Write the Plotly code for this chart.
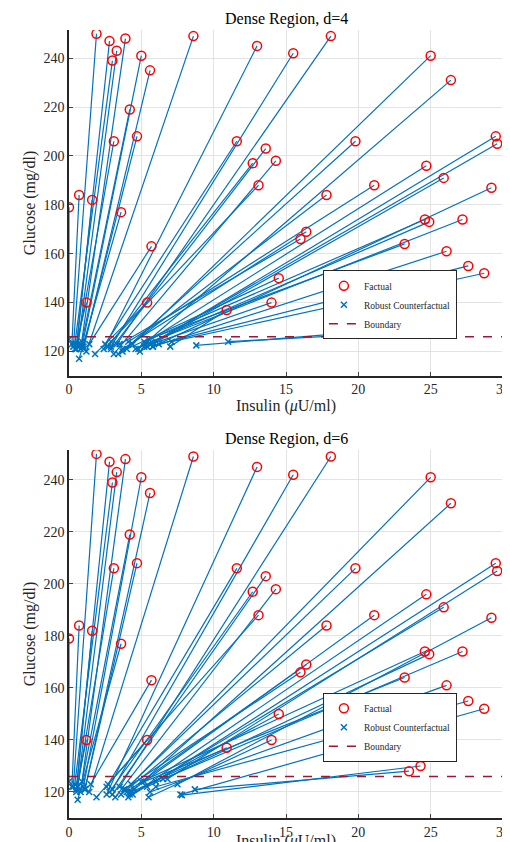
import plotly.graph_objects as go
from plotly.subplots import make_subplots

# factual points (same in both panels)
fact_x = [1.9, 2.8, 3.3, 3.9, 3.0, 5.0, 5.6, 8.6, 13.0, 15.5, 18.1, 25.0, 26.4, 4.2, 3.1, 4.7, 11.6, 12.7, 13.6, 14.3,
          13.1, 19.8, 29.5, 29.6, 0.0, 0.7, 1.6, 3.6, 5.7, 17.8, 21.1, 24.7, 25.9, 29.2, 24.6, 24.9, 27.2, 16.0, 16.4, 23.2,
          26.1, 27.6, 28.7, 14.5, 1.2, 5.4, 14.0, 10.9, 23.5, 24.3]
fact_y = [250, 247, 243, 248, 239, 241, 235, 249, 245, 242, 249, 241, 231, 219, 206, 208, 206, 197, 203, 198,
          188, 206, 208, 205, 179, 184, 182, 177, 163, 184, 188, 196, 191, 187, 174, 173, 174, 166, 169, 164,
          161, 155, 152, 150, 140, 140, 140, 137, 128, 130]

# robust counterfactuals, d=4
cf4_x = [0.3, 0.5, 0.6, 0.8, 0.4, 0.9, 1.0, 1.2, 2.4, 2.9, 3.3, 4.4, 4.8, 0.9, 0.6, 1.0, 2.5, 2.7, 2.9, 3.1,
         2.9, 3.7, 5.4, 5.6, 0.0, 0.2, 0.5, 0.7, 1.4, 3.4, 4.1, 4.6, 4.9, 5.8, 5.2, 5.3, 5.7, 3.5, 3.7, 5.5,
         5.8, 6.2, 7.1, 4.0, 0.4, 1.8, 5.2, 7.0, 11.0, 8.8]
cf4_y = [122, 121, 122, 121, 123, 122, 121, 120, 121, 122, 123, 123, 121, 124, 123, 122, 123, 122, 121, 119,
         124, 120, 122, 123, 125, 123, 121, 117, 123, 119, 124, 121, 120, 122, 124, 123, 124, 123, 121, 125,
         122, 123, 124, 121, 121, 119, 122, 122, 124, 122.5]

# robust counterfactuals, d=6
cf6_x = [0.3, 0.5, 0.6, 0.8, 0.4, 1.0, 1.1, 1.4, 2.6, 3.0, 3.5, 4.3, 4.5, 0.9, 0.6, 1.1, 2.6, 2.8, 3.0, 3.2,
         2.7, 3.9, 6.0, 6.8, 0.0, 0.2, 0.5, 0.6, 1.5, 3.6, 4.2, 4.1, 4.4, 7.5, 5.0, 5.4, 6.5, 3.8, 4.0, 5.2,
         5.6, 6.0, 7.7, 4.2, 0.5, 1.9, 5.5, 4.3, 8.7, 7.8]
cf6_y = [122, 121, 122, 120, 123, 122, 121, 120, 119, 121, 122, 123, 121, 124, 122, 121, 122, 120, 119, 118,
         123, 121, 124, 125, 124, 122, 120, 117, 123, 119, 120, 118, 119, 123, 124, 122, 125, 121, 120, 124,
         120, 122, 119, 119, 121, 118, 118, 120, 121, 118.8]

boundary = 126
titles = ["Dense Region, d=4", "Dense Region, d=6"]

line_col = "#0072BD"
font = "Liberation Serif"

fig = make_subplots(rows=2, cols=1, subplot_titles=titles)

for row, (cx, cy) in enumerate([(cf4_x, cf4_y), (cf6_x, cf6_y)], start=1):
    lx, ly = [], []
    for a, b, c, d in zip(fact_x, fact_y, cx, cy):
        lx += [a, c, None]
        ly += [b, d, None]
    leg = "legend" if row == 1 else "legend2"
    fig.add_trace(go.Scatter(x=lx, y=ly, mode="lines", line=dict(color=line_col, width=1.2),
                             showlegend=False, hoverinfo="skip"), row=row, col=1)
    fig.add_trace(go.Scatter(x=fact_x, y=fact_y, mode="markers", name="Factual", legend=leg,
                             marker=dict(symbol="circle-open", size=9, color="red", line=dict(width=1.5))),
                  row=row, col=1)
    fig.add_trace(go.Scatter(x=cx, y=cy, mode="markers", name="Robust Counterfactual", legend=leg,
                             marker=dict(symbol="x-thin-open", size=6, color=line_col, line=dict(width=1.5, color=line_col))),
                  row=row, col=1)
    fig.add_trace(go.Scatter(x=[0, 30], y=[boundary, boundary], mode="lines", name="Boundary", legend=leg,
                             line=dict(color="#A2142F", width=1.5, dash="dash")), row=row, col=1)
    fig.update_xaxes(range=[0, 30], dtick=5, title_text="Insulin (<i>μ</i>U/ml)", row=row, col=1)
    fig.update_yaxes(range=[110, 251.5], dtick=20, title_text="Glucose (mg/dl)", row=row, col=1)

fig.update_xaxes(showgrid=True, gridcolor="#e3e3e3", showline=True, linecolor="#262626", linewidth=1.5,
                 ticks="inside", ticklen=4, zeroline=False, title_standoff=2, automargin=False,
                 tickfont=dict(size=14), title_font=dict(size=16))
fig.update_yaxes(showgrid=True, gridcolor="#e3e3e3", showline=True, linecolor="#262626", linewidth=1.5,
                 ticks="inside", ticklen=4, zeroline=False, title_standoff=4, automargin=False,
                 tickfont=dict(size=14), title_font=dict(size=16))
fig.update_annotations(font=dict(size=16, family=font, color="black"))

legend_style = dict(bgcolor="white", bordercolor="#262626", borderwidth=1, font=dict(size=9.5, family=font),
                    xanchor="left", yanchor="top", tracegroupgap=0, itemwidth=30)
fig.update_layout(
    width=510, height=842,
    margin=dict(l=61, r=15, t=22, b=32, autoexpand=False),
    plot_bgcolor="white", paper_bgcolor="white",
    font=dict(family=font, color="#262626"),
    yaxis=dict(domain=[0.561, 1.0]),
    yaxis2=dict(domain=[0.0, 0.467]),
    legend=dict(x=0.585, y=0.695, **legend_style),
    legend2=dict(x=0.585, y=0.159, **legend_style),
)
# move subplot titles to just above each panel
fig.layout.annotations[0].update(y=1.0, yshift=0)
fig.layout.annotations[1].update(y=0.467, yshift=0)

fig.write_html("out.html")
